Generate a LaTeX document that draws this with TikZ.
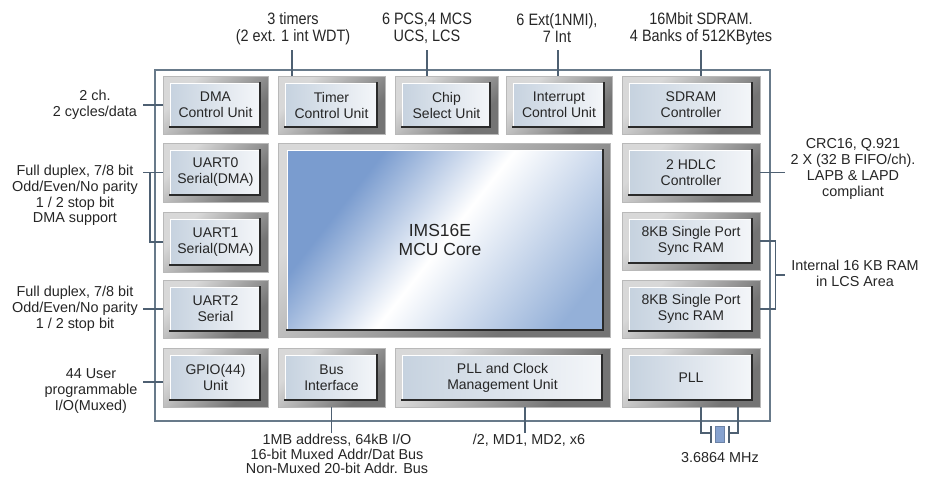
\documentclass[tikz,border=0pt]{standalone}
\usepackage{fontspec}
\setmainfont{Liberation Sans}
\newfontfamily\narrowf[FakeStretch=0.875]{Liberation Sans}
\definecolor{framec}{HTML}{687A8A}
\definecolor{connc}{HTML}{4E6072}
\definecolor{og1}{HTML}{D8D8D8}
\definecolor{og2}{HTML}{747474}
\definecolor{pl}{HTML}{C6D2DF}
\definecolor{pr}{HTML}{F4F6F9}
\definecolor{cb}{HTML}{7A9CCF}
\definecolor{cb2}{HTML}{94B0D8}
\definecolor{shd}{HTML}{2A2A2A}
\definecolor{txt}{HTML}{262626}
\definecolor{xtalc}{HTML}{86A2CF}
\pgfdeclarehorizontalshading{outershade}{100bp}{color(0bp)=(og1); color(30bp)=(og1); color(70bp)=(og2); color(100bp)=(og2)}
\pgfdeclarehorizontalshading{coreshade}{100bp}{color(0bp)=(cb); color(30bp)=(cb); color(50bp)=(white); color(78bp)=(cb2); color(100bp)=(cb2)}
\tikzset{
  outerbox/.style={shading=outershade, shading angle=-45, draw=gray!55, line width=0.5pt, inner sep=0pt, rectangle},
  boxtext/.style={font=\fontsize{14}{16}\selectfont, align=center, text=txt, inner sep=0pt},
  coretext/.style={font=\fontsize{17.5}{19.5}\selectfont, align=center, text=txt, inner sep=0pt},
  lab/.style={font=\fontsize{14.4}{15.8}\selectfont, align=center, text=txt, inner sep=1pt},
  toplab/.style={font=\narrowf\fontsize{16.5}{17}\selectfont, align=center, text=txt, inner sep=1pt},
  conn/.style={draw=connc, line width=1.3pt},
  chipframe/.style={draw=framec, line width=1.2pt}
}
\newcommand\blk[6]{%
  \node[outerbox, minimum width={(#4-#2)*1pt}, minimum height={(#5-#3)*1pt}] (#1) at ({(#2+#4)/2},{(#3+#5)/2}) {};
  \fill[left color=pl, right color=pr] ({#2+7},{#3+7}) rectangle ({#4-8},{#5-7});
  \draw[white, line width=1pt] ({#2+7},{#5-7}) -- ({#2+7},{#3+7}) -- ({#4-8},{#3+7});
  \draw[shd, line width=2.4pt] ({#2+6},{#5-7}) -- ({#4-8},{#5-7}) -- ({#4-8},{#3+6});
  \node[boxtext] (#1-t) at (#1) {#6};
}
\begin{document}
\begin{tikzpicture}[x=1pt,y=-1pt]
\useasboundingbox (0,0) rectangle (930,477);
\fill[white] (0,0) rectangle (930,477);
% chip outline
\draw[chipframe] (155,70) rectangle (770,421);
% blocks
\blk{dma}{163}{76}{268}{134}{DMA\\Control Unit}
\blk{timer}{278}{76}{385}{134}{Timer\\Control Unit}
\blk{chip}{395}{76}{498}{134}{Chip\\Select Unit}
\blk{intr}{506}{76}{612}{134}{Interrupt\\Control Unit}
\blk{sdram}{622}{76}{760}{134}{SDRAM\\Controller}
\blk{uart0}{163}{143}{268}{202}{UART0\\Serial(DMA)}
\blk{uart1}{163}{212}{268}{272}{UART1\\Serial(DMA)}
\blk{uart2}{163}{280}{268}{338}{UART2\\Serial}
\blk{gpio}{163}{348}{268}{407}{GPIO(44)\\Unit}
\blk{bus}{278}{348}{385}{407}{Bus\\Interface}
\blk{pllcm}{395}{348}{610}{407}{PLL and Clock\\Management Unit}
\blk{pll}{622}{348}{760}{407}{PLL}
\blk{hdlc}{622}{143}{760}{202}{2 HDLC\\Controller}
\blk{ram1}{622}{212}{760}{270}{8KB Single Port\\Sync RAM}
\blk{ram2}{622}{280}{760}{338}{8KB Single Port\\Sync RAM}
% core
\node[outerbox, minimum width=332pt, minimum height=194pt] (core) at (444,240) {};
\fill[shading=coreshade, shading angle=-38] (287,150) rectangle (603,330);
\draw[white, line width=1pt] (287,330) -- (287,150) -- (603,150);
\draw[shd, line width=2.4pt] (286,330) -- (603,330) -- (603,149);
\node[coretext] (core-t) at (440,240) {IMS16E\\MCU Core};
% top labels
\node[toplab] (l-timer) at (293,28.5) {3 timers\\(2 ext. 1 int WDT)};
\node[toplab] (l-chip) at (427,28.5) {6 PCS,4 MCS\\UCS, LCS};
\node[toplab] (l-intr) at (557,28.5) {6 Ext(1NMI),\\7 Int};
\node[toplab] (l-sdram) at (701,28.5) {16Mbit SDRAM.\\4 Banks of 512KBytes};
\coordinate (c-timer) at (292,50);
\coordinate (c-chip) at (427,50);
\coordinate (c-intr) at (558,50);
\coordinate (c-sdram) at (701,50);
\draw[conn] (c-timer) -- (c-timer |- timer.north);
\draw[conn] (c-chip) -- (c-chip |- chip.north);
\draw[conn] (c-intr) -- (c-intr |- intr.north);
\draw[conn] (c-sdram) -- (c-sdram |- sdram.north);
% left labels
\node[lab] (l-dma) at (95,105) {2 ch.\\2 cycles/data};
\node[lab] (l-u01) at (75,195.5) {Full duplex, 7/8 bit\\Odd/Even/No parity\\1 / 2 stop bit\\DMA support};
\node[lab] (l-u2) at (75,309) {Full duplex, 7/8 bit\\Odd/Even/No parity\\1 / 2 stop bit};
\node[lab] (l-gpio) at (91,391) {44 User\\programmable\\I/O(Muxed)};
\coordinate (c-dma) at (143,105);
\coordinate (c-u01) at (143,172.5);
\coordinate (b-u01) at (150,172.5);
\coordinate (c-u2) at (143,309);
\coordinate (c-gpio) at (143,382);
\draw[conn] (c-dma) -- (dma.west);
\draw[conn] (c-u01) -- (uart0.west);
\draw[conn] (b-u01) |- (uart1.west);
\draw[conn] (c-u2) -- (uart2.west);
\draw[conn] (c-gpio) -- (c-gpio -| gpio.west);
% right labels
\node[lab] (l-hdlc) at (853,169) {CRC16, Q.921\\2 X (32 B FIFO/ch).\\LAPB \& LAPD\\compliant};
\node[lab] (l-ram) at (855,273.5) {Internal 16 KB RAM\\in LCS Area};
\draw[conn] (hdlc.east) -- ++(25,0);
\draw[conn] (ram1.east) -- ++(15,0) |- (ram2.east);
\coordinate (b-ram) at (775,275);
\draw[conn] (b-ram) -- ++(10,0);
% bottom labels
\node[lab, font=\fontsize{14.4}{14.8}\selectfont] (l-bus) at (337,454) {1MB address, 64kB I/O\\16-bit Muxed Addr/Dat Bus\\Non-Muxed 20-bit Addr. Bus};
\node[lab] (l-clk) at (529,440) {/2, MD1, MD2, x6};
\node[lab] (l-xtal) at (720,458) {3.6864 MHz};
\draw[conn] (bus.south) -- (bus.south |- l-bus.north);
\draw[conn] ([xshift=22.5pt]pllcm.south) -- ([xshift=22.5pt]pllcm.south |- l-clk.north);
% crystal
\node[fill=xtalc, draw=xtalc!80!black, line width=0.4pt, minimum width=9pt, minimum height=16pt, inner sep=0pt] (xtal) at (720,434.5) {};
\coordinate (xl) at (711,433);
\coordinate (xr) at (729,433);
\draw[conn] ([xshift=10pt]pll.south) |- (xl);
\draw[conn] ([xshift=47pt]pll.south) |- (xr);
\draw[conn, line width=1.6pt] (711,426) -- (711,443);
\draw[conn, line width=1.6pt] (729,426) -- (729,443);
\end{tikzpicture}
\end{document}
